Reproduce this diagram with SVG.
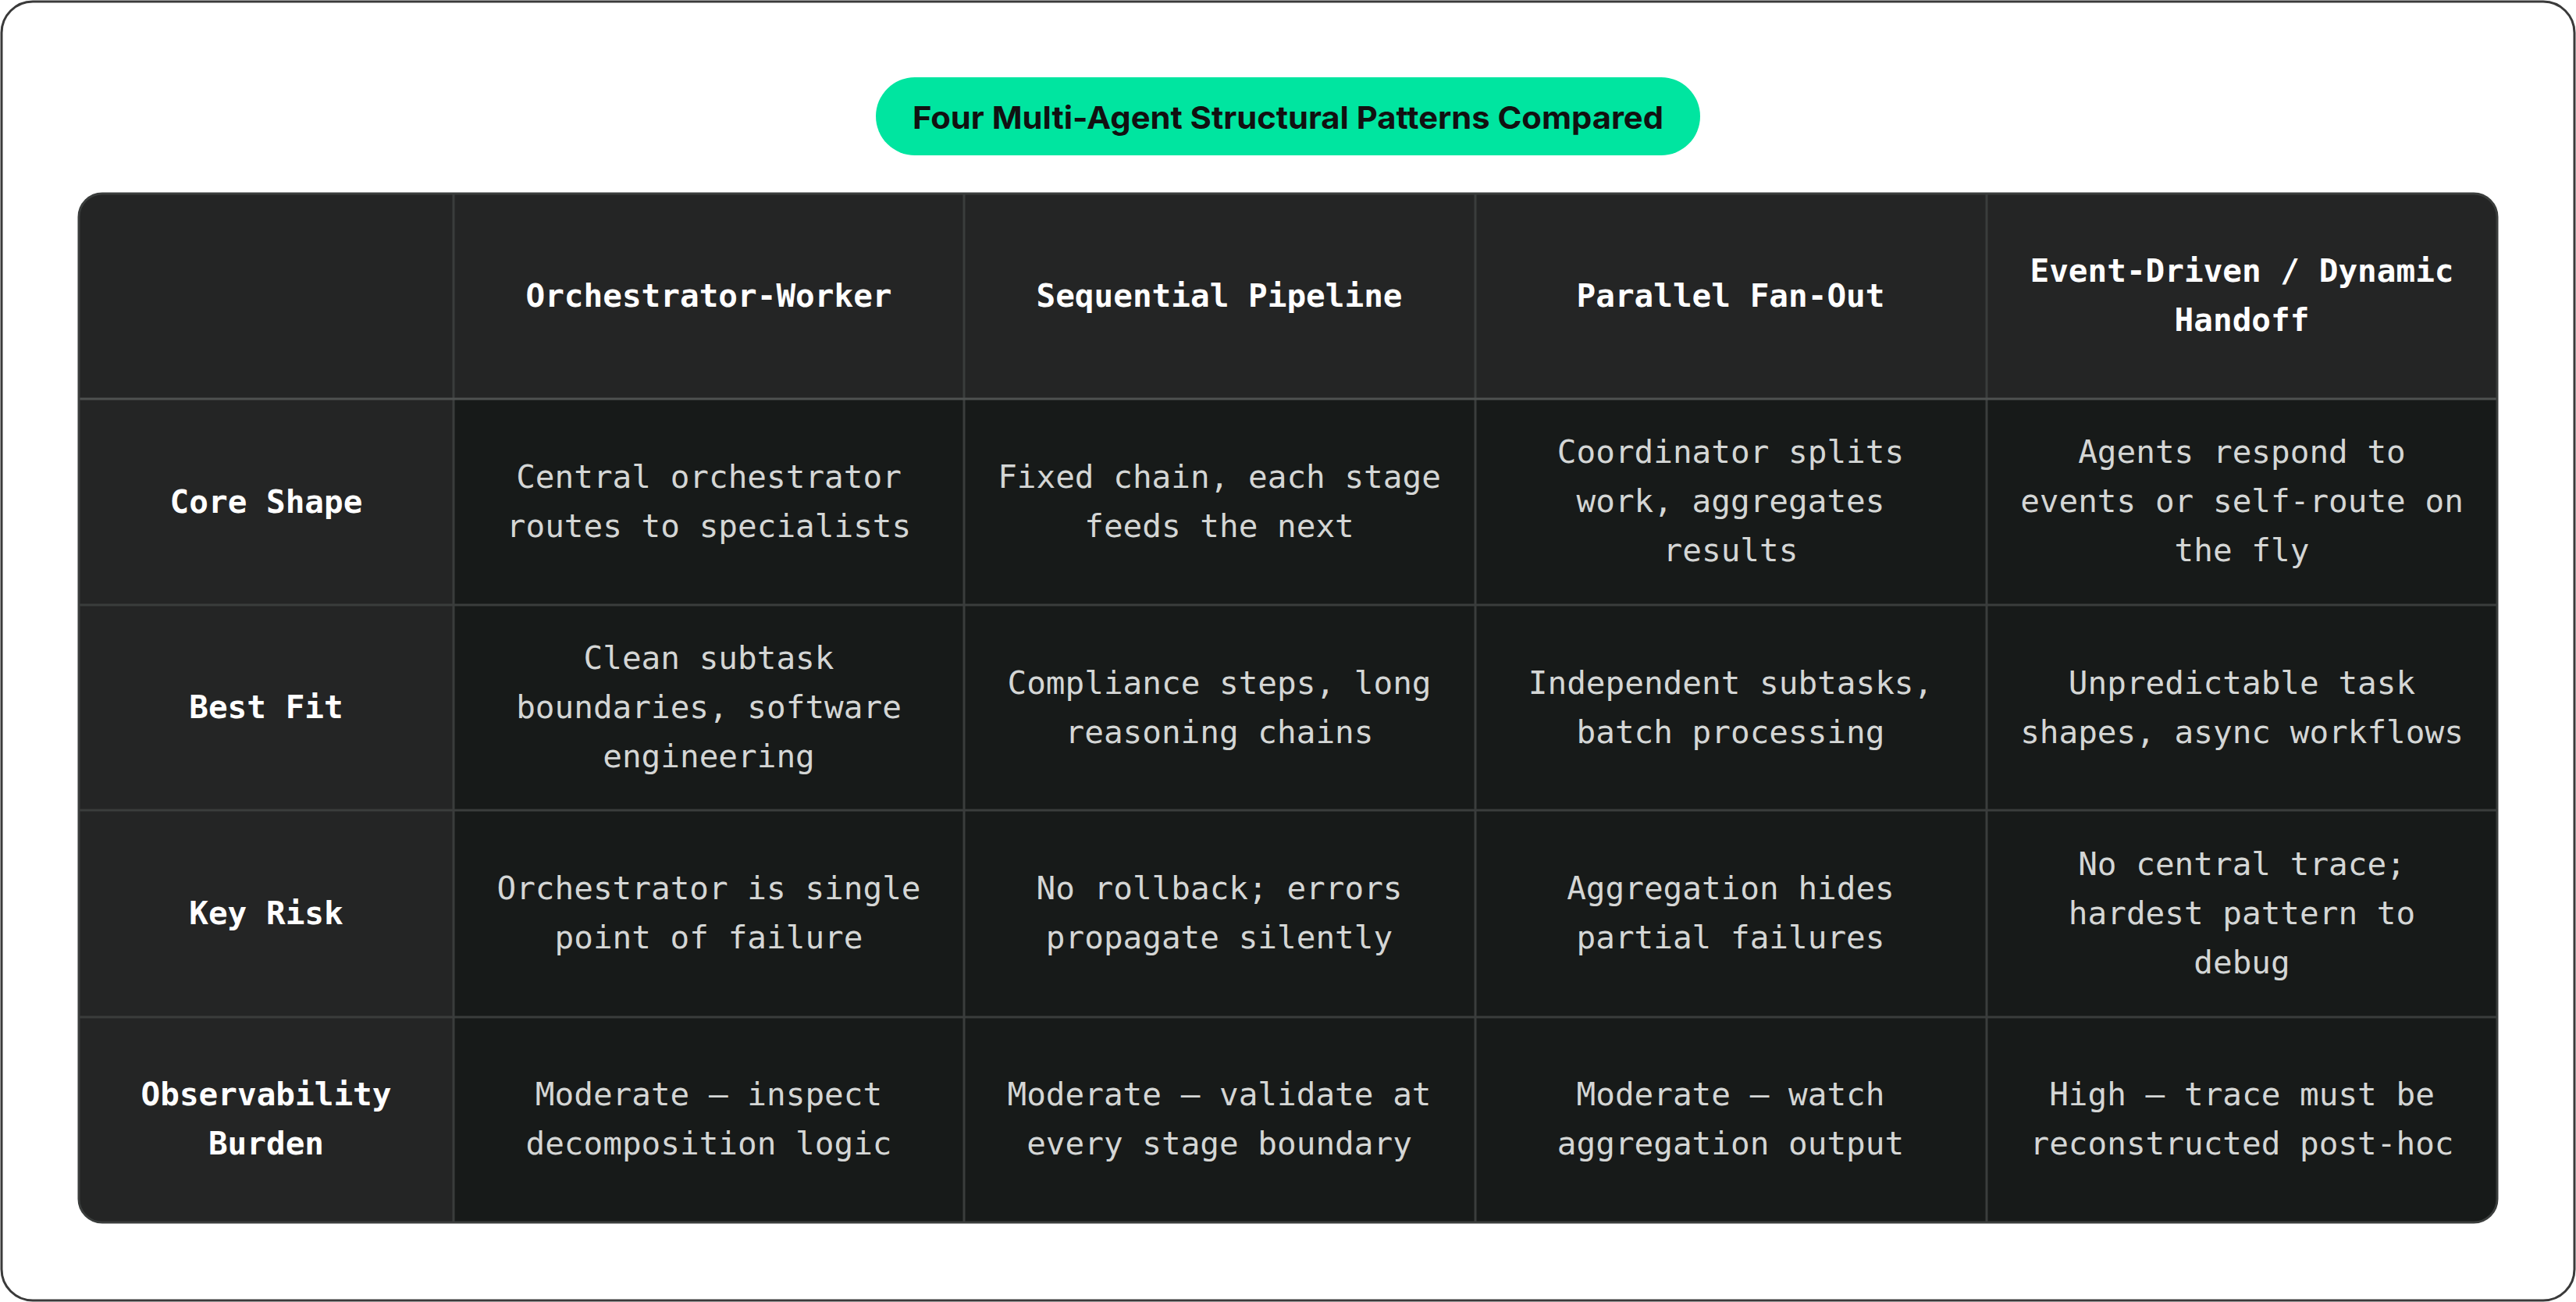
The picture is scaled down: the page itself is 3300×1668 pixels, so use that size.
<svg xmlns="http://www.w3.org/2000/svg" width="3300" height="1668" viewBox="0 0 3300 1668">
<style>
.h{font-family:"DejaVu Sans Mono","Liberation Mono",monospace;font-size:41px;font-weight:bold;fill:#ffffff;text-anchor:middle;dominant-baseline:central}
.b{font-family:"DejaVu Sans Mono","Liberation Mono",monospace;font-size:41px;fill:#d4d6d5;text-anchor:middle;dominant-baseline:central}
.ln{stroke:#3a3d3c;stroke-width:3}
</style>
<rect x="2" y="2" width="3296" height="1664" rx="40" fill="#ffffff" stroke="#3a3a3a" stroke-width="3"/>
<g id="title">
<rect x="1122" y="99" width="1056" height="100" rx="50" fill="#00e5a0"/>
<text x="1650" y="150" font-family="Inter,'Liberation Sans',sans-serif" font-size="40" font-weight="bold" fill="#111" text-anchor="middle" dominant-baseline="central" textLength="962" lengthAdjust="spacingAndGlyphs">Four Multi-Agent Structural Patterns Compared</text>
</g>
<g id="table">
<rect x="101" y="248" width="3098" height="1318" rx="30" fill="#171a19"/>
<path d="M131 248 H3169 A30 30 0 0 1 3199 278 V511 H101 V278 A30 30 0 0 1 131 248 Z" fill="#242525"/>
<path d="M101 511 H581 V1566 H131 A30 30 0 0 1 101 1536 Z" fill="#242525"/>
<g id="grid">
<line class="ln" x1="581" y1="248" x2="581" y2="1566"/>
<line class="ln" x1="1235" y1="248" x2="1235" y2="1566"/>
<line class="ln" x1="1890" y1="248" x2="1890" y2="1566"/>
<line class="ln" x1="2545" y1="248" x2="2545" y2="1566"/>
<line x1="101" y1="511" x2="3199" y2="511" stroke="#4e5150" stroke-width="3"/>
<line class="ln" x1="101" y1="775" x2="3199" y2="775"/>
<line class="ln" x1="101" y1="1038" x2="3199" y2="1038"/>
<line class="ln" x1="101" y1="1303" x2="3199" y2="1303"/>
</g>
<rect x="101" y="248" width="3098" height="1318" rx="30" fill="none" stroke="#3a3d3c" stroke-width="3"/>
</g>
<g id="header">
<text class="h" x="908" y="379">Orchestrator-Worker</text>
<text class="h" x="1562" y="379">Sequential Pipeline</text>
<text class="h" x="2217" y="379">Parallel Fan-Out</text>
<text class="h" x="2872" y="347">Event-Driven / Dynamic</text>
<text class="h" x="2872" y="410">Handoff</text>
</g>
<g id="row-core">
<text class="h" x="341" y="643">Core Shape</text>
<text class="b" x="908" y="611">Central orchestrator</text>
<text class="b" x="908" y="674">routes to specialists</text>
<text class="b" x="1562" y="611">Fixed chain, each stage</text>
<text class="b" x="1562" y="674">feeds the next</text>
<text class="b" x="2217" y="579">Coordinator splits</text>
<text class="b" x="2217" y="642">work, aggregates</text>
<text class="b" x="2217" y="705">results</text>
<text class="b" x="2872" y="579">Agents respond to</text>
<text class="b" x="2872" y="642">events or self-route on</text>
<text class="b" x="2872" y="705">the fly</text>
</g>
<g id="row-fit">
<text class="h" x="341" y="906">Best Fit</text>
<text class="b" x="908" y="843">Clean subtask</text>
<text class="b" x="908" y="906">boundaries, software</text>
<text class="b" x="908" y="969">engineering</text>
<text class="b" x="1562" y="875">Compliance steps, long</text>
<text class="b" x="1562" y="938">reasoning chains</text>
<text class="b" x="2217" y="875">Independent subtasks,</text>
<text class="b" x="2217" y="938">batch processing</text>
<text class="b" x="2872" y="875">Unpredictable task</text>
<text class="b" x="2872" y="938">shapes, async workflows</text>
</g>
<g id="row-risk">
<text class="h" x="341" y="1170">Key Risk</text>
<text class="b" x="908" y="1138">Orchestrator is single</text>
<text class="b" x="908" y="1201">point of failure</text>
<text class="b" x="1562" y="1138">No rollback; errors</text>
<text class="b" x="1562" y="1201">propagate silently</text>
<text class="b" x="2217" y="1138">Aggregation hides</text>
<text class="b" x="2217" y="1201">partial failures</text>
<text class="b" x="2872" y="1107">No central trace;</text>
<text class="b" x="2872" y="1170">hardest pattern to</text>
<text class="b" x="2872" y="1233">debug</text>
</g>
<g id="row-obs">
<text class="h" x="341" y="1402">Observability</text>
<text class="h" x="341" y="1465">Burden</text>
<text class="b" x="908" y="1402">Moderate — inspect</text>
<text class="b" x="908" y="1465">decomposition logic</text>
<text class="b" x="1562" y="1402">Moderate — validate at</text>
<text class="b" x="1562" y="1465">every stage boundary</text>
<text class="b" x="2217" y="1402">Moderate — watch</text>
<text class="b" x="2217" y="1465">aggregation output</text>
<text class="b" x="2872" y="1402">High — trace must be</text>
<text class="b" x="2872" y="1465">reconstructed post-hoc</text>
</g>
</svg>
